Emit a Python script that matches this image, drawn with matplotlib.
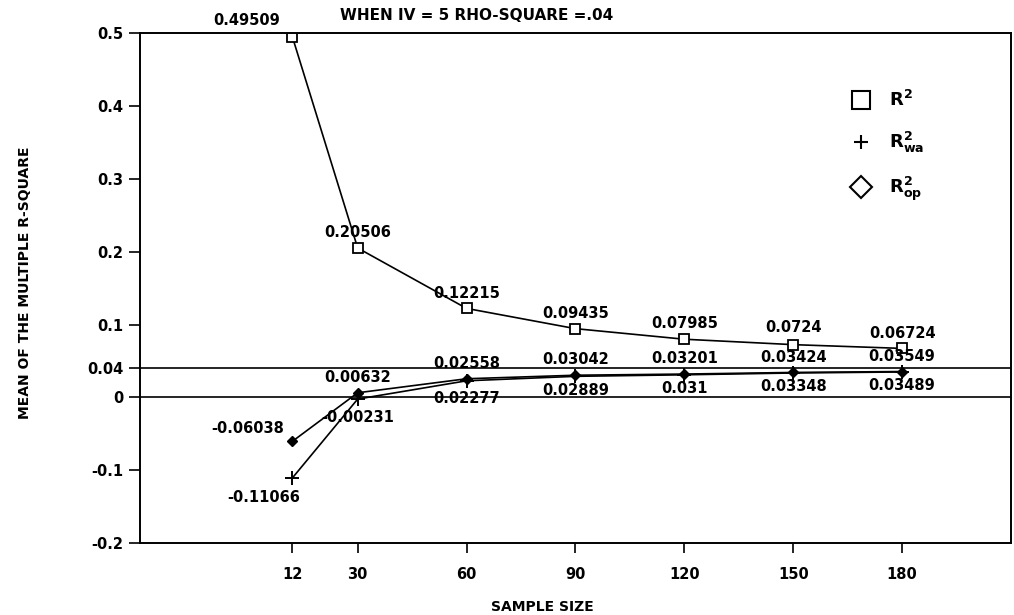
import matplotlib.pyplot as plt
from matplotlib.lines import Line2D

sample_size = [12, 30, 60, 90, 120, 150, 180]
tick_labels = ["12", "30", "60", "90", "120", "150", "180"]
r2 = [0.49509, 0.20506, 0.12215, 0.09435, 0.07985, 0.0724, 0.06724]
r2_wa = [-0.11066, -0.00231, 0.02277, 0.02889, 0.031, 0.03348, 0.03489]
r2_op = [-0.06038, 0.00632, 0.02558, 0.03042, 0.03201, 0.03424, 0.03549]
r2_text = ["0.49509", "0.20506", "0.12215", "0.09435", "0.07985", "0.0724", "0.06724"]
wa_text = ["-0.11066", "-0.00231", "0.02277", "0.02889", "0.031", "0.03348", "0.03489"]
op_text = ["-0.06038", "0.00632", "0.02558", "0.03042", "0.03201", "0.03424", "0.03549"]
rho_sq = 0.04

# label offsets in points
r2_off = [(-33, 12), (0, 11), (0, 11), (0, 11), (0, 11), (0, 12), (0, 11)]
op_off = [(-32, 9), (0, 11), (0, 11), (0, 11), (0, 11), (0, 11), (0, 11)]
wa_off = [(-21, -14), (0, -13), (0, -13), (0, -10), (0, -10), (0, -10), (0, -10)]

plt.rcParams['font.family'] = 'DejaVu Sans'
plt.rcParams['font.weight'] = 'bold'
fig = plt.figure(figsize=(10.14, 6.15), dpi=100)
ax = fig.add_axes([0.138, 0.117, 0.859, 0.829])

ax.axhline(rho_sq, color='black', lw=1.2)
ax.axhline(0, color='black', lw=1.2)

ax.plot(sample_size, r2, color='black', lw=1.2, marker='s', ms=7, mfc='white', mec='black', mew=1.3)
ax.plot(sample_size, r2_wa, color='black', lw=1.2, marker='+', ms=10, mew=1.4)
ax.plot(sample_size, r2_op, color='black', lw=1.2, marker='D', ms=5, mfc='black', mec='black')

for x, y, t, o in zip(sample_size, r2, r2_text, r2_off):
    ax.annotate(t, (x, y), xytext=o, textcoords='offset points', ha='center', va='center', fontsize=10.5)
for x, y, t, o in zip(sample_size, r2_op, op_text, op_off):
    ax.annotate(t, (x, y), xytext=o, textcoords='offset points', ha='center', va='center', fontsize=10.5)
for x, y, t, o in zip(sample_size, r2_wa, wa_text, wa_off):
    ax.annotate(t, (x, y), xytext=o, textcoords='offset points', ha='center', va='center', fontsize=10.5)

ax.set_xlim(-30, 210)
ax.set_ylim(-0.2, 0.5)
ax.set_xticks(sample_size)
ax.set_xticklabels(tick_labels, fontsize=10.5)
ax.set_yticks([-0.2, -0.1, 0, 0.04, 0.1, 0.2, 0.3, 0.4, 0.5])
ax.set_yticklabels(["-0.2", "-0.1", "0", "0.04", "0.1", "0.2", "0.3", "0.4", "0.5"], fontsize=10.5)
ax.tick_params(axis='y', direction='out', length=8, width=1.2, pad=4)
ax.tick_params(axis='x', direction='out', length=7, width=1.2, pad=10)
for s in ax.spines.values():
    s.set_linewidth(1.4)

fig.text(0.47, 0.974, "WHEN IV = 5 RHO-SQUARE =.04", ha='center', va='center', fontsize=11)
fig.text(0.025, 0.54, "MEAN OF THE MULTIPLE R-SQUARE", rotation=90, ha='center', va='center', fontsize=10)
fig.text(0.535, 0.013, "SAMPLE SIZE", ha='center', va='center', fontsize=10)

handles = [
    Line2D([], [], ls='none', marker='s', ms=13, mfc='white', mec='black', mew=1.5),
    Line2D([], [], ls='none', marker='+', ms=10, mec='black', mew=1.5),
    Line2D([], [], ls='none', marker='D', ms=11, mfc='white', mec='black', mew=1.5),
]
ax.legend(handles, [r'$\mathbf{R^2}$', r'$\mathbf{R^2_{wa}}$', r'$\mathbf{R^2_{op}}$'],
          loc='upper left', bbox_to_anchor=(0.82, 0.88), bbox_transform=fig.transFigure,
          frameon=False, fontsize=13, labelspacing=1.1, handletextpad=0.8, handlelength=1.5)

fig.savefig("out.png", dpi=100)
plt.close(fig)
